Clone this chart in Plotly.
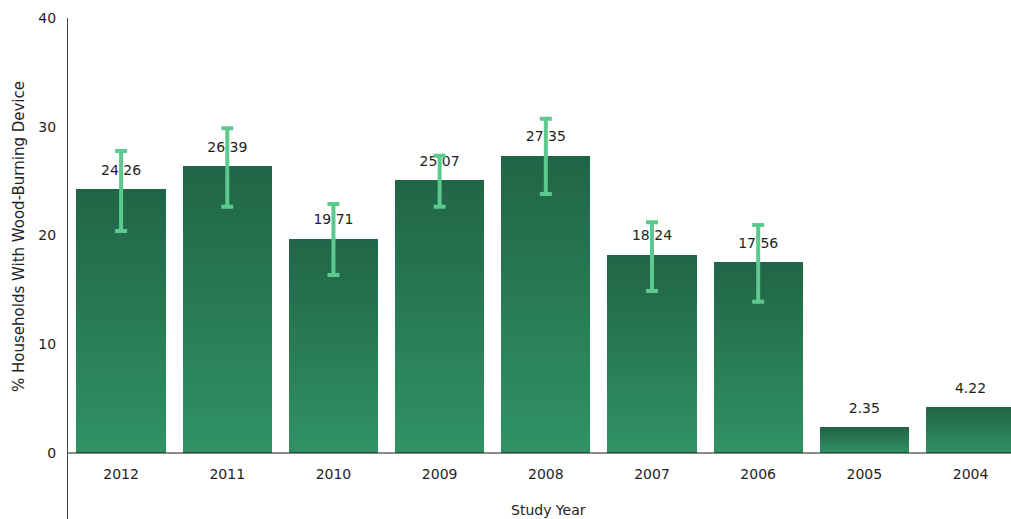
import plotly.graph_objects as go

# Share of households with a wood-burning device, by study year
years = ["2012", "2011", "2010", "2009", "2008", "2007", "2006", "2005", "2004"]
pct = [24.26, 26.39, 19.71, 25.07, 27.35, 18.24, 17.56, 2.35, 4.22]
err_plus = [3.51, 3.47, 3.19, 2.27, 3.39, 2.97, 3.41, None, None]
err_minus = [3.85, 3.74, 3.34, 2.42, 3.53, 3.34, 3.65, None, None]

y_ticks = [0, 10, 20, 30, 40]

FONT = "DejaVu Sans"
TEXT = "#1e1e1e"
BOTTOM_RGB = (48, 146, 100)
TOP_RGB = (33, 101, 71)
ERR_COLOR = "#5cc98f"

fig = go.Figure()

# Each bar is built from thin stacked slices so it fades from light (base) to dark (top)
n_slices = 48
for k in range(n_slices):
    t = k / (n_slices - 1)
    rgb = tuple(round(b + (tp - b) * t) for b, tp in zip(BOTTOM_RGB, TOP_RGB))
    fig.add_trace(go.Bar(
        x=years,
        y=[v / n_slices for v in pct],
        marker=dict(color="rgb(%d,%d,%d)" % rgb, line=dict(width=0)),
        hoverinfo="skip",
        showlegend=False,
    ))

# Value labels above each bar
fig.add_trace(go.Scatter(
    x=years,
    y=pct,
    mode="markers+text",
    marker=dict(size=16, color="rgba(0,0,0,0)"),
    text=["%.2f" % v for v in pct],
    textposition="top center",
    textfont=dict(family=FONT, size=14, color=TEXT),
    hoverinfo="skip",
    showlegend=False,
))

# Confidence intervals (only where available)
idx = [i for i, e in enumerate(err_plus) if e is not None]
fig.add_trace(go.Scatter(
    x=[years[i] for i in idx],
    y=[pct[i] for i in idx],
    mode="markers",
    marker=dict(size=1, color="rgba(0,0,0,0)"),
    error_y=dict(
        type="data",
        symmetric=False,
        array=[err_plus[i] for i in idx],
        arrayminus=[err_minus[i] for i in idx],
        color=ERR_COLOR,
        thickness=4,
        width=6,
    ),
    hoverinfo="skip",
    showlegend=False,
))

fig.update_layout(
    width=1011,
    height=519,
    margin=dict(l=68, r=0, t=18, b=0),
    barmode="stack",
    bargap=0.16,
    plot_bgcolor="white",
    paper_bgcolor="white",
    font=dict(family=FONT, size=14, color=TEXT),
    xaxis=dict(
        type="category",
        range=[-0.5, 8.381],
        anchor="free",
        position=(519 - 453) / 501,
        showline=True,
        linecolor="rgba(0,0,0,0.45)",
        linewidth=2,
        layer="above traces",
        showgrid=False,
        zeroline=False,
        ticks="",
        ticklabelstandoff=8,
        tickfont=dict(family=FONT, size=14, color=TEXT),
    ),
    yaxis=dict(
        range=[-6.07, 40],
        tickvals=y_ticks,
        showline=True,
        linecolor="#444444",
        linewidth=1,
        showgrid=False,
        zeroline=False,
        ticks="",
        ticklabelstandoff=8,
        tickfont=dict(family=FONT, size=14, color=TEXT),
    ),
    annotations=[
        dict(
            text="% Households With Wood-Burning Device",
            xref="paper", yref="paper",
            x=-(68 - 19) / 943, y=(519 - 237) / 501,
            xanchor="center", yanchor="middle",
            textangle=-90, showarrow=False,
            font=dict(family=FONT, size=15, color=TEXT),
        ),
        dict(
            text="Study Year",
            xref="paper", yref="paper",
            x=(548 - 68) / 943, y=(519 - 510) / 501,
            xanchor="center", yanchor="middle",
            showarrow=False,
            font=dict(family=FONT, size=14, color=TEXT),
        ),
    ],
)

fig.write_html("out.html")
